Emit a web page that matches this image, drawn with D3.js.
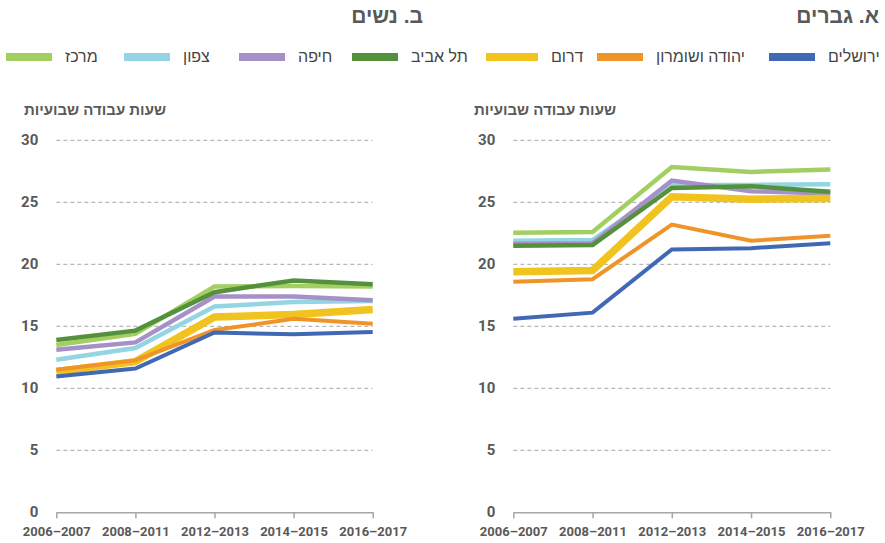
<!DOCTYPE html>
<html lang="he">
<head>
<meta charset="utf-8">
<script src="https://d3js.org/d3.v7.min.js"></script>
<style>
body { margin: 0; background: #fff; }
svg { display: block; }
.grid line { stroke: #a6a6a6; stroke-dasharray: 4,3; }
.tick-y { font: bold 15px Roboto, "Liberation Sans", sans-serif; fill: #595959; }
.tick-x { font: bold 13px Roboto, "Liberation Sans", sans-serif; fill: #595959; }
.heb { font-family: "Liberation Sans", "DejaVu Sans", sans-serif; }
</style>
</head>
<body>
<div id="chart"></div>
<script>
// periods on the x axis
const periods = ["2006–2007", "2008–2011", "2012–2013", "2014–2015", "2016–2017"]
// regions in legend order (right to left)
const regions = ["ירושלים", "יהודה ושומרון", "דרום", "תל אביב", "חיפה", "צפון", "מרכז"]
const colors = ["#4169b3", "#ef9429", "#f0c31f", "#55903c", "#a690c8", "#93d5e3", "#a3cf62"]
const widths = [4, 4, 7.5, 4.5, 4.5, 4.5, 4.5]

// weekly working hours - men
const men = [
    [15.6, 16.1, 21.2, 21.3, 21.7],
    [18.6, 18.8, 23.2, 21.9, 22.3],
    [19.4, 19.5, 25.45, 25.25, 25.3],
    [21.5, 21.55, 26.15, 26.3, 25.85],
    [21.65, 21.7, 26.75, 25.9, 25.7],
    [21.9, 21.95, 26.4, 26.4, 26.45],
    [22.55, 22.6, 27.85, 27.45, 27.65]
]
// weekly working hours - women
const women = [
    [10.95, 11.6, 14.5, 14.35, 14.55],
    [11.5, 12.25, 14.7, 15.6, 15.2],
    [11.35, 12.15, 15.75, 15.95, 16.35],
    [13.9, 14.65, 17.75, 18.7, 18.4],
    [13.1, 13.7, 17.4, 17.4, 17.1],
    [12.3, 13.25, 16.6, 16.95, 17.05],
    [13.5, 14.4, 18.2, 18.25, 18.2]
]
const yTicks = [0, 5, 10, 15, 20, 25, 30]

const width = 885
const height = 543

const svg = d3.select("#chart").append("svg")
    .attr("width", width)
    .attr("height", height)

const y = d3.scaleLinear().domain([0, 30]).range([512.3, 140.3])

// legend swatch left edges
const legendX = [769, 597, 486, 352, 239, 124, 6]
const legend = svg.append("g")
legend.selectAll("rect")
    .data(regions)
    .join("rect")
    .attr("x", (d, i) => legendX[i])
    .attr("y", 53)
    .attr("width", (d, i) => i == 2 ? 52 : 46)
    .attr("height", 8)
    .attr("fill", (d, i) => colors[i])
legend.selectAll("text")
    .data(regions)
    .join("text")
    .attr("class", "heb")
    .attr("x", (d, i) => legendX[i] + (i == 2 ? 52 : 46) + 13)
    .attr("y", 62)
    .attr("font-size", "16px")
    .attr("fill", "#444")
    .text(d => d)

function panel(x0, x1, data, title, titleRight, yLabelRight) {
    const x = d3.scalePoint().domain(periods).range([x0, x1])
    const g = svg.append("g")

    // title
    g.append("text")
        .attr("class", "heb")
        .attr("x", titleRight)
        .attr("y", 23)
        .attr("text-anchor", "end")
        .attr("font-size", "21px")
        .attr("font-weight", "bold")
        .attr("fill", "#595959")
        .text(title)

    // axis title
    g.append("text")
        .attr("class", "heb")
        .attr("x", yLabelRight)
        .attr("y", 115)
        .attr("text-anchor", "end")
        .attr("font-size", "15px")
        .attr("font-weight", "bold")
        .attr("fill", "#595959")
        .text("שעות עבודה שבועיות")

    // gridlines
    g.append("g").attr("class", "grid")
        .selectAll("line")
        .data(yTicks.filter(t => t > 0))
        .join("line")
        .attr("x1", x0).attr("x2", x1)
        .attr("y1", d => y(d)).attr("y2", d => y(d))

    g.selectAll(".tick-y")
        .data(yTicks)
        .join("text")
        .attr("class", "tick-y")
        .attr("x", x0 - 18)
        .attr("y", d => y(d) + 5)
        .attr("text-anchor", "end")
        .text(d => d)

    // x axis
    const ax = g.append("g")
        .attr("transform", "translate(0," + y(0) + ")")
        .call(d3.axisBottom(x).tickSize(6).tickSizeOuter(0))
    ax.select(".domain").attr("stroke", "#a6a6a6").attr("stroke-width", 1.5)
    ax.selectAll(".tick line").attr("stroke", "#a6a6a6").attr("stroke-width", 1.5)
    ax.selectAll(".tick text")
        .attr("class", "tick-x")
        .attr("dy", null)
        .attr("y", 24)

    const line = d3.line()
        .x((d, i) => x(periods[i]))
        .y(d => y(d))

    // draw from last to first so ירושלים ends up on top
    const order = d3.range(regions.length).reverse()
    g.selectAll(".series")
        .data(order)
        .join("path")
        .attr("class", "series")
        .attr("fill", "none")
        .attr("stroke", i => colors[i])
        .attr("stroke-width", i => widths[i])
        .attr("d", i => line(data[i]))
}

panel(513.3, 830.3, men, "א. גברים", 879, 616)
panel(56.3, 372.7, women, "ב. נשים", 423, 166)
</script>
</body>
</html>
